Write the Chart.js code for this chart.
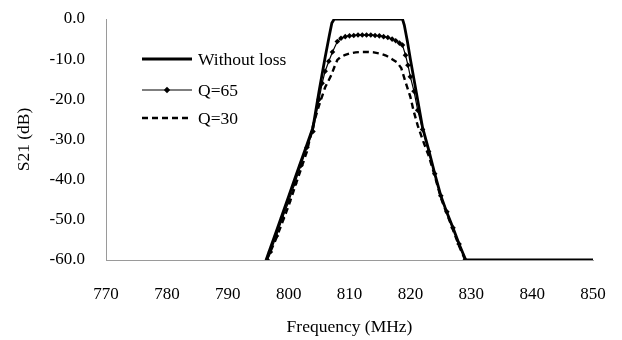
<!DOCTYPE html>
<html>
<head>
<meta charset="utf-8">
<script src="https://cdn.jsdelivr.net/npm/chart.js@4"></script>
<style>
  html, body { margin: 0; padding: 0; background: #fff; }
  #wrap { width: 622px; height: 340px; }
</style>
</head>
<body>
<div id="wrap"><canvas id="s21-chart"></canvas></div>
<script>
// Frequency (MHz) / S21 (dB)
const lossFreq = [796.3, 797, 798, 799, 800, 801, 802, 803, 804, 805, 806, 806.7, 807.1, 807.5,
                  818.7, 819, 819.5, 820, 821, 822, 823, 824, 825, 826, 827, 828, 829.1, 840, 850];
const lossDb   = [-60, -57, -52.8, -48.5, -44.2, -39.8, -35.5, -31.3, -27, -18, -9.5, -4, -1, 0,
                  0, -1.5, -5.5, -10, -18.5, -27, -32.5, -38.5, -44, -48.2, -52, -56, -60, -60, -60];

const q65Freq = [796.5, 797, 798, 799, 800, 801, 802, 803, 804, 805, 805.5, 806, 806.6, 807.2,
                 808, 808.6, 809.3, 810, 810.7, 811.4, 812.1, 812.8, 813.5, 814.2, 814.9, 815.6,
                 816.3, 817, 817.6, 818.2, 818.7, 819.2, 819.6, 820, 820.6, 821.2, 822, 823, 824,
                 825, 826, 827, 828, 829];
const q65Db   = [-60, -58, -54, -49.5, -45.5, -41, -36.5, -32, -28, -20, -16, -13, -10.5, -8.2,
                 -5.6, -4.8, -4.4, -4.2, -4.1, -4.0, -4.0, -4.0, -4.0, -4.1, -4.2, -4.4,
                 -4.6, -5.0, -5.4, -6.0, -6.5, -9, -11.5, -14.4, -18, -22.7, -27.5, -33, -38.5,
                 -44, -48, -52, -56, -60];

const q30Freq = [796.4, 797, 798, 799, 800, 801, 802, 803, 804, 805, 806, 807, 807.5, 808, 808.5,
                 809.2, 810, 811, 812, 813, 814, 815, 816, 817, 817.8, 818.5, 819.2, 820, 820.5,
                 821.2, 822, 823, 824, 825, 826, 827, 828, 829];
const q30Db   = [-60, -58, -54.5, -50.5, -46.5, -42, -37.5, -33, -26.5, -21.5, -17, -14, -12, -10.2, -9.5,
                 -9.0, -8.6, -8.3, -8.2, -8.2, -8.3, -8.6, -9.1, -10.0, -10.8, -12.2, -15.7, -19.4, -22.7,
                 -26.5, -30, -34, -39, -44.5, -48.5, -52.5, -56.5, -60];

const seriesNames = ['Without loss', 'Q=65', 'Q=30'];
const xTicks = [770, 780, 790, 800, 810, 820, 830, 840, 850];
const yTicks = [0, -10, -20, -30, -40, -50, -60];

const serif = "'Liberation Serif', 'Times New Roman', serif";

function toPoints(xs, ys) {
    return xs.map((x, i) => ({ x: x, y: ys[i] }));
}

// Legend drawn inside the plot, like the original Excel figure
const insideLegend = {
    id: 'insideLegend',
    afterDraw(chart) {
        const ctx = chart.ctx;
        const area = chart.chartArea;
        const x0 = area.left + 36;
        const len = 50;
        const rows = [area.top + 40, area.top + 71, area.top + 99];
        ctx.save();
        ctx.font = '17.5px ' + serif;
        ctx.fillStyle = '#000';
        ctx.textBaseline = 'middle';
        chart.data.datasets.forEach((ds, i) => {
            const y = rows[i];
            ctx.strokeStyle = '#000';
            ctx.lineWidth = ds.borderWidth;
            ctx.setLineDash(ds.borderDash || []);
            ctx.beginPath();
            ctx.moveTo(x0, y);
            ctx.lineTo(x0 + len, y);
            ctx.stroke();
            ctx.setLineDash([]);
            if (ds.pointRadius > 0) {
                const cx = x0 + len / 2, r = 3.2;
                ctx.beginPath();
                ctx.moveTo(cx, y - r);
                ctx.lineTo(cx + r, y);
                ctx.lineTo(cx, y + r);
                ctx.lineTo(cx - r, y);
                ctx.closePath();
                ctx.fill();
            }
            ctx.fillText(ds.label, x0 + len + 6, y + 1);
        });
        ctx.restore();
    }
};

const ctx = document.getElementById('s21-chart').getContext('2d');
new Chart(ctx, {
    type: 'line',
    data: {
        datasets: [{
            label: seriesNames[0],
            data: toPoints(lossFreq, lossDb),
            borderColor: '#000',
            borderWidth: 2.8,
            pointRadius: 0,
            tension: 0
        }, {
            label: seriesNames[1],
            data: toPoints(q65Freq, q65Db),
            borderColor: '#000',
            backgroundColor: '#000',
            borderWidth: 1.2,
            pointStyle: 'rectRot',
            pointRadius: 2.8,
            pointBorderWidth: 0,
            tension: 0
        }, {
            label: seriesNames[2],
            data: toPoints(q30Freq, q30Db),
            borderColor: '#000',
            borderWidth: 2.4,
            borderDash: [6, 4],
            pointRadius: 0,
            tension: 0
        }]
    },
    options: {
        responsive: true,
        maintainAspectRatio: false,
        animation: false,
        layout: {
            padding: { top: 19, right: 29, bottom: 0, left: 0 }
        },
        plugins: {
            legend: { display: false },
            tooltip: { enabled: false }
        },
        scales: {
            x: {
                type: 'linear',
                min: 770,
                max: 850,
                afterFit: scale => {
                    scale.height = 80;
                    scale.paddingLeft = 0;
                    scale.paddingRight = 0;
                },
                afterBuildTicks: scale => { scale.ticks = xTicks.map(v => ({ value: v })); },
                grid: { display: false, drawTicks: false },
                border: { display: true, color: '#9a9a9a', width: 1 },
                ticks: {
                    color: '#000',
                    padding: 24,
                    maxRotation: 0,
                    font: { family: serif, size: 17 }
                },
                title: {
                    display: true,
                    text: 'Frequency (MHz)',
                    color: '#000',
                    padding: { top: 0, bottom: 2 },
                    font: { family: serif, size: 17.5 }
                }
            },
            y: {
                type: 'linear',
                min: -60,
                max: 0,
                afterFit: scale => {
                    scale.width = 106;
                    scale.paddingTop = 0;
                    scale.paddingBottom = 0;
                },
                afterBuildTicks: scale => { scale.ticks = yTicks.map(v => ({ value: v })); },
                grid: { display: false, drawTicks: false },
                border: { display: true, color: '#9a9a9a', width: 1 },
                ticks: {
                    color: '#000',
                    padding: 21,
                    callback: v => v.toFixed(1),
                    font: { family: serif, size: 17 }
                },
                title: {
                    display: true,
                    text: 'S21 (dB)',
                    color: '#000',
                    padding: { top: 14, bottom: 0 },
                    font: { family: serif, size: 17.5 }
                }
            }
        }
    },
    plugins: [insideLegend]
});
</script>
</body>
</html>
